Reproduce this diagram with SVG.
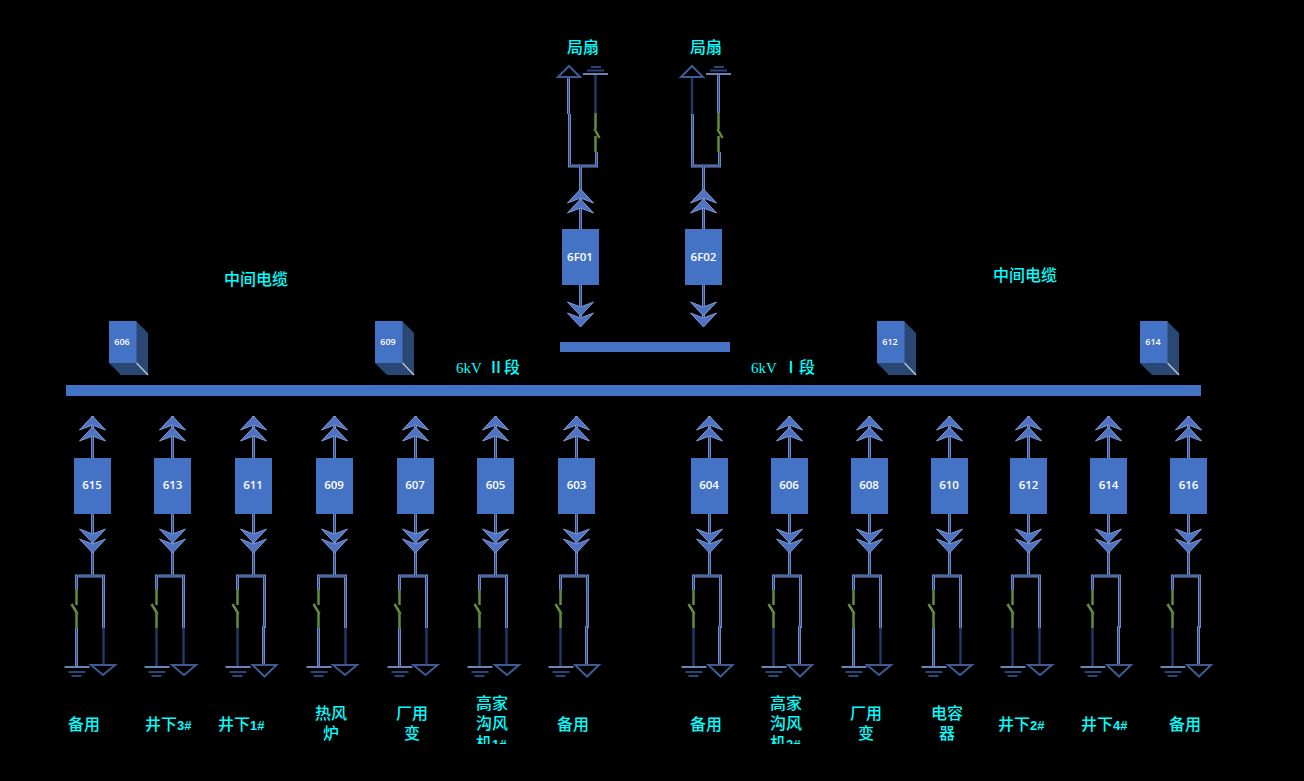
<svg xmlns="http://www.w3.org/2000/svg" width="1304" height="781" viewBox="0 0 1304 781">
<style>
.bg{fill:#000}
.box{fill:#4472c4}
.bl{font:600 11.5px "Open Sans","Noto Sans",sans-serif;fill:#fff;text-anchor:middle}
.cl{font:600 9px "Open Sans","Noto Sans",sans-serif;fill:#fff;text-anchor:middle}
.t{font:500 16px "Noto Sans CJK SC",sans-serif;fill:#0ff}
.n{font:700 13px "Liberation Sans",sans-serif;fill:#0ff}
.s{font:15px "Liberation Serif",serif;fill:#0ff}
.o{fill:none;stroke:#6d8ac4;stroke-width:3}
.i{fill:none;stroke:#2f4f8a;stroke-width:1}
.d{fill:none;stroke:#203864;stroke-width:2.5}
.g{fill:none;stroke:#5f8f3e;stroke-width:2.5}
.e{fill:none;stroke:#6d84b4;stroke-width:2}
.b{fill:none;stroke:#2a4678;stroke-width:2}
.tr{fill:none;stroke:#3f5b94;stroke-width:2}
.ch{fill:#4f73c2;stroke:#7e9ad6;stroke-width:1}
.side{fill:#2b4875}
</style>
<defs>
<path id="c" class="ch" d="M-13,14 L0,0 L13,14 L0,9 Z"/>
<g id="chevUp"><use href="#c" y="427"/><use href="#c" y="416"/></g>
<g id="chevDn">
<use href="#c" transform="translate(0,543) scale(1,-1)"/>
<use href="#c" transform="translate(0,553) scale(1,-1)"/>
</g>
<g id="gnd"><path class="e" d="M0,0H25"/><path class="b" d="M4,5H21"/><path class="b" d="M7,9H17"/></g>
<g id="gndUp"><path class="e" d="M0,0H25"/><path class="b" d="M4,-3.500H21"/><path class="b" d="M8,-7H18"/></g>
<g id="feeder">
<path class="o" d="M0,416V458M0,514V576M-16,590V576H11V628"/>
<path class="i" d="M0,416V458M0,514V576M-16,590V576H11V628"/>
<path class="g" d="M-16,590V605M-21,604L-15,614M-16,613V628"/>
<use href="#gnd" x="-28" y="667"/>
<use href="#chevUp"/><use href="#chevDn"/>
</g>
<g id="ll"><path class="o" d="M-16,628V666"/><path class="i" d="M-16,628V666"/></g>
<path id="dl" class="d" d="M-16,628V666"/>
<g id="lr"><path class="o" d="M10,626V665"/><path class="i" d="M10,626V665"/></g>
<path id="dr" class="d" d="M11,628V665"/>
<path id="triS" class="tr" d="M-12,665H12L0,675Z"/>
<path id="triL" class="tr" d="M-12,665H12L0,676.500Z"/>
<g id="topF">
<path class="o" d="M0,166V229M0,285V320M-11,114V166H16V152"/>
<path class="i" d="M0,166V229M0,285V320M-11,114V166H16V152"/>
<path class="g" d="M15,113V129M14,129L19,138M15,136V152"/>
<use href="#c" transform="translate(0,199)"/><use href="#c" transform="translate(0,189)"/>
<use href="#c" transform="translate(0,316) scale(1,-1)"/><use href="#c" transform="translate(0,327) scale(1,-1)"/>
</g>
<g id="cube">
<path class="side" d="M27,0L39,12V54L27,42Z"/>
<path class="side" d="M0,42H27L39,54H12Z"/>
<rect class="box" width="27.500" height="42"/>
<path d="M27.500,42L39,54" stroke="#b8c0cc" stroke-width="1.500" fill="none"/>
</g>
<clipPath id="clip"><rect x="0" y="690" width="1304" height="54"/></clipPath>
</defs>
<rect class="bg" width="1304" height="781"/>
<g id="connectors">
<use href="#topF" x="580.500"/><use href="#topF" x="703.500"/>
<path class="o" d="M568.500,114V76"/><path class="i" d="M568.500,114V76"/>
<path class="d" d="M595.500,113V75"/>
<path class="tr" d="M558,77H580L569,66Z"/>
<use href="#gndUp" x="583" y="74"/>
<path class="d" d="M692,114V76"/>
<path class="o" d="M718.500,113V75"/><path class="i" d="M718.500,113V75"/>
<path class="tr" d="M681,77H703L692,66Z"/>
<use href="#gndUp" x="706" y="74"/>
<use href="#feeder" x="92.500"/><use href="#ll" x="92.500"/><use href="#dr" x="92.500"/><use href="#triS" x="103"/>
<use href="#feeder" x="172.500"/><use href="#dl" x="172.500"/><use href="#dr" x="172.500"/><use href="#triS" x="184"/>
<use href="#feeder" x="253.500"/><use href="#dl" x="253.500"/><use href="#lr" x="253.500"/><use href="#triL" x="264.500"/>
<use href="#feeder" x="334.500"/><use href="#ll" x="334.500"/><use href="#dr" x="334.500"/><use href="#triS" x="345"/>
<use href="#feeder" x="415.500"/><use href="#ll" x="415.500"/><use href="#dr" x="415.500"/><use href="#triS" x="425.500"/>
<use href="#feeder" x="495.500"/><use href="#dl" x="495.500"/><use href="#dr" x="495.500"/><use href="#triS" x="507"/>
<use href="#feeder" x="576.500"/><use href="#dl" x="576.500"/><use href="#lr" x="576.500"/><use href="#triL" x="587"/>
<use href="#feeder" x="709.500"/><use href="#dl" x="709.500"/><use href="#lr" x="709.500"/><use href="#triL" x="720.500"/>
<use href="#feeder" x="789.500"/><use href="#dl" x="789.500"/><use href="#lr" x="789.500"/><use href="#triL" x="800"/>
<use href="#feeder" x="869.500"/><use href="#ll" x="869.500"/><use href="#dr" x="869.500"/><use href="#triS" x="879"/>
<use href="#feeder" x="949.500"/><use href="#ll" x="949.500"/><use href="#dr" x="949.500"/><use href="#triS" x="960"/>
<use href="#feeder" x="1028.500"/><use href="#dl" x="1028.500"/><use href="#dr" x="1028.500"/><use href="#triS" x="1040"/>
<use href="#feeder" x="1108.500"/><use href="#dl" x="1108.500"/><use href="#lr" x="1108.500"/><use href="#triL" x="1119"/>
<use href="#feeder" x="1188.500"/><use href="#dl" x="1188.500"/><use href="#lr" x="1188.500"/><use href="#triL" x="1199"/>
</g>
<g id="bus-I-II"><rect class="box" x="66" y="385" width="1135" height="11"/></g>
<g id="bus-top"><rect class="box" x="560" y="342" width="170" height="10"/></g>
<g id="n6F01"><rect class="box" x="562" y="229" width="37" height="56"/><text class="bl" x="580" y="261">6F01</text></g>
<g id="n6F02"><rect class="box" x="685" y="229" width="37" height="56"/><text class="bl" x="703.500" y="261">6F02</text></g>
<g id="n615"><rect class="box" x="74" y="458" width="37" height="56"/><text class="bl" x="92" y="489">615</text></g>
<g id="n613"><rect class="box" x="154" y="458" width="37" height="56"/><text class="bl" x="172.500" y="489">613</text></g>
<g id="n611"><rect class="box" x="235" y="458" width="37" height="56"/><text class="bl" x="253" y="489">611</text></g>
<g id="n609"><rect class="box" x="316" y="458" width="37" height="56"/><text class="bl" x="334" y="489">609</text></g>
<g id="n607"><rect class="box" x="397" y="458" width="37" height="56"/><text class="bl" x="415" y="489">607</text></g>
<g id="n605"><rect class="box" x="477" y="458" width="37" height="56"/><text class="bl" x="495.500" y="489">605</text></g>
<g id="n603"><rect class="box" x="558" y="458" width="37" height="56"/><text class="bl" x="576.500" y="489">603</text></g>
<g id="n604"><rect class="box" x="691" y="458" width="37" height="56"/><text class="bl" x="709" y="489">604</text></g>
<g id="n606"><rect class="box" x="771" y="458" width="37" height="56"/><text class="bl" x="789" y="489">606</text></g>
<g id="n608"><rect class="box" x="851" y="458" width="37" height="56"/><text class="bl" x="869" y="489">608</text></g>
<g id="n610"><rect class="box" x="931" y="458" width="37" height="56"/><text class="bl" x="949" y="489">610</text></g>
<g id="n612"><rect class="box" x="1010" y="458" width="37" height="56"/><text class="bl" x="1028.500" y="489">612</text></g>
<g id="n614"><rect class="box" x="1090" y="458" width="37" height="56"/><text class="bl" x="1108.500" y="489">614</text></g>
<g id="n616"><rect class="box" x="1170" y="458" width="37" height="56"/><text class="bl" x="1188.500" y="489">616</text></g>
<g id="cube606"><use href="#cube" x="109" y="321"/><text class="cl" x="122" y="345">606</text></g>
<g id="cube609"><use href="#cube" x="375" y="321"/><text class="cl" x="388" y="345">609</text></g>
<g id="cube612"><use href="#cube" x="877" y="321"/><text class="cl" x="890" y="345">612</text></g>
<g id="cube614"><use href="#cube" x="1140" y="321"/><text class="cl" x="1153" y="345">614</text></g>
<g id="labels">
<text class="t" x="567" y="53">局扇</text><text class="t" x="690" y="53">局扇</text>
<text class="t" x="224" y="285">中间电缆</text><text class="t" x="993" y="281">中间电缆</text>
<text class="s" x="456" y="373">6kV</text><text class="t" x="488" y="373">Ⅱ段</text>
<text class="s" x="751" y="373">6kV</text><text class="t" x="783" y="373">Ⅰ段</text>
<text class="t" x="68" y="730">备用</text>
<text class="t" x="145" y="730">井下<tspan class="n">3#</tspan></text>
<text class="t" x="218" y="730">井下<tspan class="n">1#</tspan></text>
<text class="t" x="315" y="719">热风</text><text class="t" x="323" y="739">炉</text>
<text class="t" x="396" y="719">厂用</text><text class="t" x="404" y="739">变</text>
<g clip-path="url(#clip)"><text class="t" x="476" y="709">高家</text><text class="t" x="476" y="729">沟风</text><text class="t" x="476" y="749">机<tspan class="n">1#</tspan></text></g>
<text class="t" x="557" y="730">备用</text>
<text class="t" x="690" y="730">备用</text>
<g clip-path="url(#clip)"><text class="t" x="770" y="709">高家</text><text class="t" x="770" y="729">沟风</text><text class="t" x="770" y="749">机<tspan class="n">2#</tspan></text></g>
<text class="t" x="850" y="719">厂用</text><text class="t" x="858" y="739">变</text>
<text class="t" x="931" y="719">电容</text><text class="t" x="939" y="739">器</text>
<text class="t" x="998" y="730">井下<tspan class="n">2#</tspan></text>
<text class="t" x="1081" y="730">井下<tspan class="n">4#</tspan></text>
<text class="t" x="1169" y="730">备用</text>
</g>
</svg>
